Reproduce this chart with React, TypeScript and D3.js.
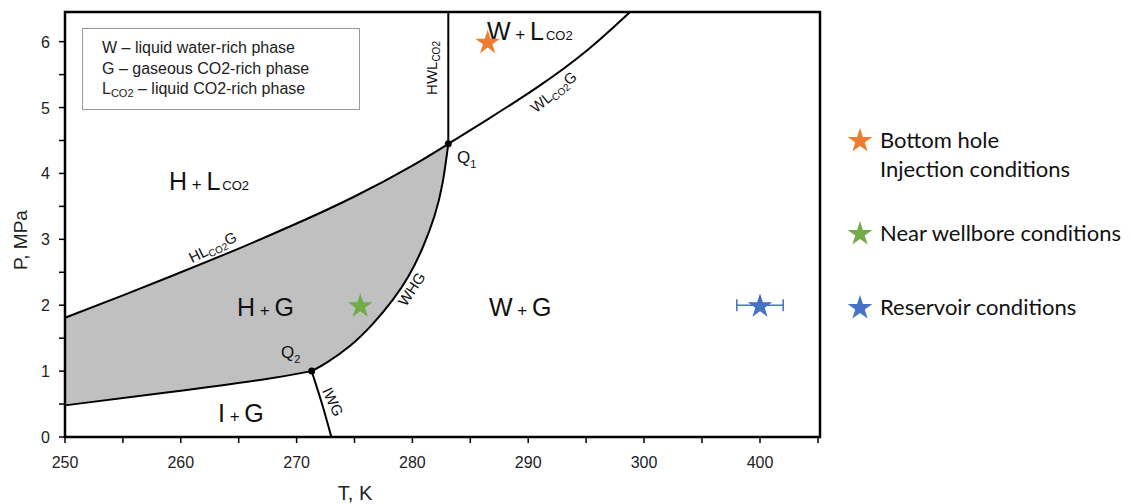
import React from 'react'
import * as d3 from 'd3'

// phase boundary curves, [T (K), P (MPa)]
const hlgCurve: [number, number][] = [[250, 1.81], [255, 2.15], [260, 2.5], [265, 2.86], [270, 3.24], [275, 3.65], [280, 4.12], [283.1, 4.45]]
const whgCurve: [number, number][] = [[271.3, 1.0], [272.6, 1.13], [274.6, 1.38], [276.6, 1.72], [278.3, 2.08], [279.7, 2.45], [280.9, 2.88], [281.9, 3.35], [282.6, 3.85], [283.1, 4.45]]
const ihgCurve: [number, number][] = [[250, 0.48], [258.6, 0.67], [267, 0.87], [271.3, 1.0]]
const iwgCurve: [number, number][] = [[271.3, 1.0], [272.2, 0.5], [273.0, 0]]
const wlgCurve: [number, number][] = [[283.1, 4.45], [286.4, 4.81], [290.8, 5.31], [295.1, 5.87], [298.8, 6.45]]
const hwlCurve: [number, number][] = [[283.1, 4.45], [283.1, 6.45]]

// quadruple points Q1, Q2
const quadT = [283.1, 271.3]
const quadP = [4.45, 1.0]

// conditions (stars)
const condNames = [['Bottom hole', 'Injection conditions'], ['Near wellbore conditions'], ['Reservoir conditions']]
const condT = [286.5, 275.5, 400]
const condP = [6.0, 2.0, 2.0]
const condErr = [0, 0, 20]
const condColors = ['#ED7D31', '#70AD47', '#4472C4']

const xTicks = [250, 260, 270, 280, 290, 300, 400]
const xMinor = [255, 265, 275, 285, 295, 350, 450]
const yTicks = [0, 1, 2, 3, 4, 5, 6]
const yMinor = [0.5, 1.5, 2.5, 3.5, 4.5, 5.5]

const legendLines = ['W – liquid water-rich phase', 'G – gaseous CO2-rich phase', '– liquid CO2-rich phase']

const W = 1131, H = 504
const left = 65, right = 820, top = 12, bottom = 437

export default function App() {
  const x = d3.scaleLinear().domain([250, 300, 400, 450]).range([left, 644, 760, 818])
  const y = d3.scaleLinear().domain([0, 6.45]).range([bottom, top])

  const line = d3.line<[number, number]>()
    .x(d => x(d[0]))
    .y(d => y(d[1]))
    .curve(d3.curveNatural)

  // shaded H+G region: IHG -> WHG -> HLG back -> left axis
  const leftEdge: [number, number][] = [[250, 1.81], [250, 0.48]]
  const region = [
    line(ihgCurve)!,
    line(whgCurve)!.replace(/^M/, 'L'),
    line([...hlgCurve].reverse())!.replace(/^M/, 'L'),
    d3.line()(leftEdge.map(d => [x(d[0]), y(d[1])]) as [number, number][])!.replace(/^M/, 'L'),
    'Z'
  ].join('')

  const star = (r: number) => d3.symbol(d3.symbolStar, (r * r) / 0.8908130915292852)()!

  const big = { fontSize: 25 }
  const plus = { fontSize: 17 }
  const sub = { fontSize: 13 }
  const axisFont = 'Liberation Sans, Arial, sans-serif'

  return (
    <svg width={W} height={H} style={{ position: 'absolute', left: 0, top: 0, background: '#fff' }} fontFamily={axisFont}>
      <path d={region} fill="#c0c0c0" />

      {[hlgCurve, whgCurve, ihgCurve, iwgCurve, wlgCurve, hwlCurve].map((c, i) => (
        <path key={i} d={line(c)!} fill="none" stroke="#000" strokeWidth={2} />
      ))}

      {quadT.map((t, i) => (
        <circle key={i} cx={x(t)} cy={y(quadP[i])} r={3.5} fill="#000" />
      ))}

      {/* frame */}
      <rect x={left} y={top} width={right - left} height={bottom - top} fill="none" stroke="#000" strokeWidth={2.5} />

      {/* x axis */}
      {[...xTicks, ...xMinor].map(t => (
        <line key={'xt' + t} x1={x(t)} x2={x(t)} y1={bottom} y2={bottom + 6} stroke="#000" strokeWidth={1.5} />
      ))}
      {xTicks.map(t => (
        <text key={'xl' + t} x={x(t)} y={468} textAnchor="middle" fontSize={16} fill="#222">{t}</text>
      ))}
      <text x={355} y={500} textAnchor="middle" fontSize={20} fill="#222">T, K</text>

      {/* y axis */}
      {[...yTicks, ...yMinor].map(t => (
        <line key={'yt' + t} x1={left - 6} x2={left} y1={y(t)} y2={y(t)} stroke="#000" strokeWidth={1.5} />
      ))}
      {yTicks.map(t => (
        <text key={'yl' + t} x={50} y={y(t) + 6} textAnchor="end" fontSize={16} fill="#222">{t}</text>
      ))}
      <text transform="translate(27,240) rotate(-90)" textAnchor="middle" fontSize={19} fill="#222">P, MPa</text>

      {/* phase legend box */}
      <rect x={82.5} y={28.5} width={277} height={81} fill="#fff" stroke="#999" strokeWidth={1} />
      {legendLines.map((s, i) => (
        <text key={i} x={102} y={53 + i * 20.5} fontSize={16} fill="#222">
          {i === 2 ? <><tspan>L</tspan><tspan fontSize={11} dy={3}>CO2</tspan><tspan dy={-3}> {s}</tspan></> : s}
        </text>
      ))}

      {/* region labels */}
      <text x={169} y={190} fill="#111">
        <tspan style={big}>H</tspan><tspan style={plus}> + </tspan><tspan style={big}>L</tspan><tspan style={sub} dx={2}>CO2</tspan>
      </text>
      <text x={237} y={316} fill="#111">
        <tspan style={big}>H</tspan><tspan style={plus}> + </tspan><tspan style={big}>G</tspan>
      </text>
      <text x={218} y={422} fill="#111">
        <tspan style={big}>I</tspan><tspan style={plus}> + </tspan><tspan style={big}>G</tspan>
      </text>
      <text x={489} y={316} fill="#111">
        <tspan style={big}>W</tspan><tspan style={plus}> + </tspan><tspan style={big}>G</tspan>
      </text>
      <text x={487} y={40} fill="#111">
        <tspan style={big}>W</tspan><tspan style={plus}> + </tspan><tspan style={big}>L</tspan><tspan style={sub} dx={2}>CO2</tspan>
      </text>

      {/* quadruple point labels */}
      <text x={457} y={163} fontSize={17} fill="#111">Q<tspan fontSize={11} dy={5}>1</tspan></text>
      <text x={281} y={358} fontSize={17} fill="#111">Q<tspan fontSize={11} dy={5}>2</tspan></text>

      {/* boundary labels */}
      <text transform="translate(215,252) rotate(-26)" textAnchor="middle" fontSize={15} fill="#111">
        HL<tspan fontSize={10} dy={3}>CO2</tspan><tspan dy={-3}>G</tspan>
      </text>
      <text transform="translate(416,292) rotate(-57)" textAnchor="middle" fontSize={15} fill="#111">WHG</text>
      <text transform="translate(328,404) rotate(65)" textAnchor="middle" fontSize={15} fill="#111">IWG</text>
      <text transform="translate(437,68) rotate(-90)" textAnchor="middle" fontSize={15} fill="#111">
        HWL<tspan fontSize={10} dy={3}>CO2</tspan>
      </text>
      <text transform="translate(557,96) rotate(-40)" textAnchor="middle" fontSize={15} fill="#111">
        WL<tspan fontSize={10} dy={3}>CO2</tspan><tspan dy={-3}>G</tspan>
      </text>

      {/* condition stars */}
      {condT.map((t, i) => (
        <g key={'c' + i}>
          {condErr[i] > 0 && (
            <g stroke={condColors[i]} strokeWidth={1.5}>
              <line x1={x(t - condErr[i])} x2={x(t + condErr[i])} y1={y(condP[i])} y2={y(condP[i])} />
              <line x1={x(t - condErr[i])} x2={x(t - condErr[i])} y1={y(condP[i]) - 6} y2={y(condP[i]) + 6} />
              <line x1={x(t + condErr[i])} x2={x(t + condErr[i])} y1={y(condP[i]) - 6} y2={y(condP[i]) + 6} />
            </g>
          )}
          <path d={star(13)} transform={`translate(${x(t)},${y(condP[i]) + 1})`} fill={condColors[i]} />
        </g>
      ))}

      {/* right legend */}
      {condNames.map((lines, i) => {
        const cy = [140, 233, 307][i]
        return (
          <g key={'l' + i}>
            <path d={star(13)} transform={`translate(860,${cy + 1})`} fill={condColors[i]} />
            {lines.map((s, j) => (
              <text key={j} x={880} y={cy + 8 + j * 29} fontSize={22} fontFamily="Lato, 'Noto Sans', sans-serif" fill="#111">{s}</text>
            ))}
          </g>
        )
      })}
    </svg>
  )
}
